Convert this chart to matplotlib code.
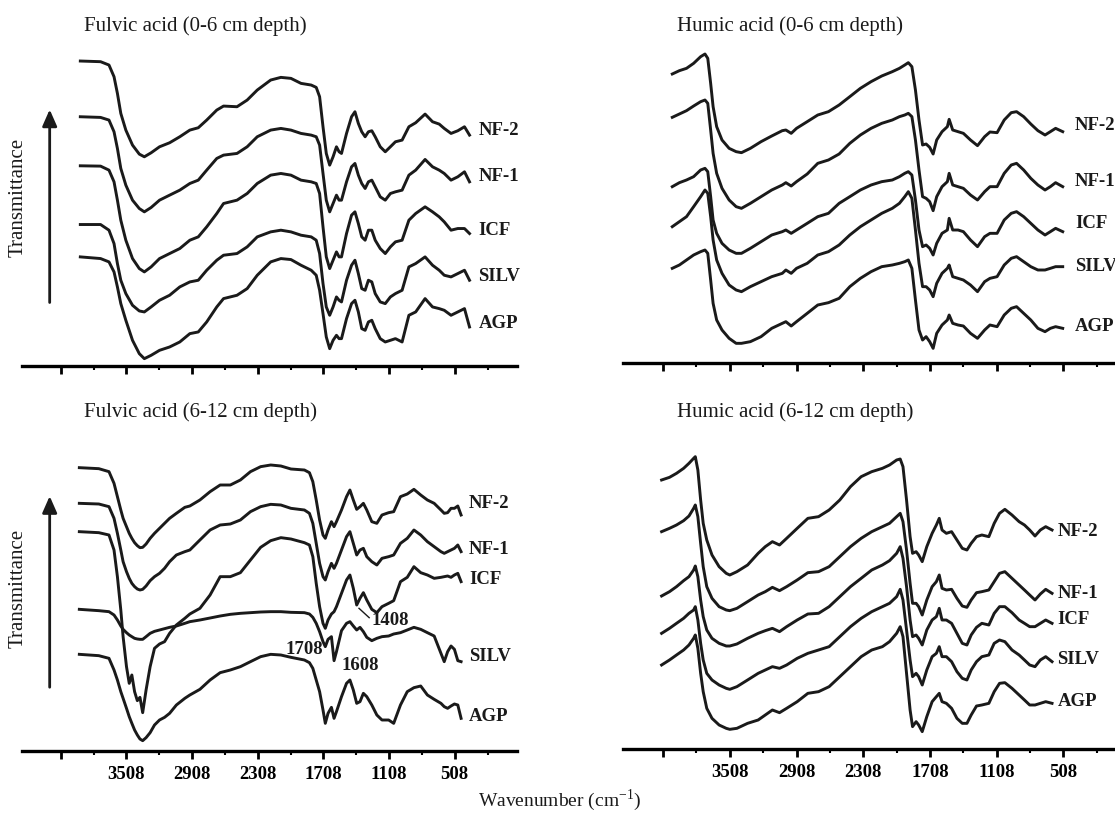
import matplotlib.pyplot as plt

plt.rcParams['font.family'] = ['Liberation Serif', 'DejaVu Serif']
plt.rcParams['mathtext.fontset'] = 'stix'

W, H = 1115, 814

samples = ['NF-2', 'NF-1', 'ICF', 'SILV', 'AGP']
major_ticks = [4108, 3508, 2908, 2308, 1708, 1108, 508]
minor_ticks = [3808, 3208, 2608, 2008, 1408, 808, 208]
tick_labels = ['', '3508', '2908', '2308', '1708', '1108', '508']

# spectra read off the figure as offset depth below the panel top (a.u.),
# so the y axis is drawn inverted

# fulvic acid, 0-6 cm
fa1_wn = [3930, 3745, 3668, 3622, 3591, 3560, 3514, 3453, 3391, 3345,
          3283, 3206, 3114, 3021, 2929, 2852, 2775, 2683, 2621, 2498,
          2405, 2313, 2190, 2097, 2005, 1913, 1820, 1774, 1743, 1712,
          1682, 1651, 1620, 1589, 1565, 1543, 1497, 1451, 1420, 1389,
          1358, 1327, 1297, 1266, 1235, 1189, 1143, 1096, 1050, 989,
          927, 865, 779, 711, 650, 604, 542, 480, 419, 373]
fa1_nf2 = [183, 185, 195, 230, 280, 340, 390, 435, 462, 470,
           458, 440, 428, 410, 390, 383, 360, 330, 318, 320,
           300, 270, 240, 232, 235, 250, 255, 262, 290, 380,
           460, 495, 470, 440, 455, 460, 400, 350, 335, 370,
           395, 410, 395, 392, 410, 440, 455, 440, 425, 420,
           380, 368, 342, 365, 372, 385, 400, 392, 380, 405]
fa1_nf1 = [350, 352, 360, 395, 445, 505, 555, 600, 625, 635,
           622, 600, 585, 570, 550, 540, 510, 475, 465, 460,
           440, 410, 390, 385, 390, 400, 405, 410, 435, 520,
           600, 635, 610, 585, 600, 600, 545, 500, 490, 525,
           550, 565, 545, 540, 560, 590, 600, 580, 575, 570,
           525, 510, 478, 500, 510, 520, 540, 530, 515, 545]
fa1_icf = [497, 498, 510, 545, 600, 660, 720, 775, 805, 815,
           800, 775, 760, 745, 720, 710, 680, 640, 610, 600,
           580, 550, 525, 520, 525, 540, 545, 550, 580, 680,
           770, 805, 780, 755, 770, 770, 700, 645, 635, 670,
           710, 720, 690, 690, 720, 745, 760, 740, 725, 720,
           660, 640, 620, 635, 650, 665, 690, 685, 685, 700]
fa1_silv = [673, 673, 690, 730, 790, 840, 880, 915, 932, 935,
            920, 900, 885, 860, 845, 840, 810, 780, 765, 760,
            740, 710, 695, 690, 695, 705, 710, 720, 760, 850,
            920, 945, 920, 890, 900, 905, 840, 795, 780, 820,
            865, 870, 840, 845, 880, 905, 910, 890, 880, 870,
            800, 790, 770, 795, 810, 825, 830, 820, 810, 840]
fa1_agp = [770, 775, 785, 815, 860, 910, 960, 1020, 1060, 1075,
           1065, 1050, 1040, 1025, 1000, 995, 965, 920, 895, 885,
           865, 825, 785, 775, 778, 795, 810, 825, 870, 940,
           1010, 1045, 1020, 1005, 1015, 1015, 955, 910, 900, 935,
           985, 990, 965, 960, 985, 1015, 1025, 1020, 1015, 1025,
           945, 935, 895, 920, 925, 930, 945, 935, 925, 980]

# humic acid, 0-6 cm
ha1_wn = [4025, 3961, 3897, 3833, 3770, 3731, 3706, 3680, 3658, 3626,
          3578, 3514, 3451, 3403, 3323, 3227, 3131, 3036, 3004, 2956,
          2908, 2812, 2717, 2621, 2525, 2429, 2334, 2238, 2142, 2047,
          1983, 1935, 1903, 1871, 1839, 1807, 1775, 1743, 1711, 1680,
          1648, 1600, 1552, 1536, 1504, 1456, 1408, 1344, 1281, 1217,
          1169, 1105, 1041, 978, 930, 866, 802, 738, 674, 626,
          579, 515]
ha1_nf2 = [222, 212, 205, 190, 170, 162, 175, 250, 320, 380,
           420, 445, 455, 458, 445, 425, 408, 392, 390, 400,
           385, 365, 345, 335, 315, 290, 265, 245, 228, 215,
           205, 195, 188, 200, 270, 360, 435, 432, 442, 462,
           420, 395, 380, 358, 390, 395, 400, 420, 437, 410,
           396, 398, 360, 338, 335, 350, 372, 392, 405, 395,
           385, 395]
ha1_nf1 = [352, 342, 332, 318, 305, 300, 310, 390, 460, 520,
           565, 600, 620, 625, 610, 590, 570, 555, 548, 558,
           545, 522, 490, 480, 462, 430, 405, 385, 370, 360,
           350, 345, 340, 350, 420, 510, 590, 595, 605, 632,
           590, 560, 545, 520, 555, 560, 565, 585, 600, 575,
           560, 560, 520, 495, 490, 510, 535, 555, 570, 560,
           548, 560]
ha1_icf = [560, 548, 540, 530, 510, 505, 515, 590, 660, 700,
           730, 750, 760, 760, 745, 725, 705, 695, 690, 700,
           690, 670, 650, 640, 610, 590, 570, 555, 545, 540,
           530, 520, 515, 525, 600, 690, 740, 735, 745, 765,
           730, 700, 690, 655, 690, 690, 695, 720, 740, 710,
           700, 700, 660, 640, 635, 650, 670, 690, 705, 695,
           685, 695]
ha1_silv = [680, 665, 650, 620, 590, 570, 580, 650, 720, 780,
            820, 855, 870, 875, 860, 845, 830, 820, 810, 820,
            805, 790, 765, 755, 735, 705, 680, 660, 640, 625,
            610, 590, 575, 595, 690, 790, 860, 860, 870, 890,
            850, 820, 805, 795, 830, 835, 840, 855, 875, 845,
            835, 830, 795, 775, 770, 785, 800, 810, 810, 805,
            800, 800]
ha1_agp = [805, 795, 780, 765, 755, 750, 760, 840, 910, 960,
           990, 1015, 1030, 1030, 1025, 1010, 985, 970, 965, 978,
           965, 940, 915, 908, 895, 860, 835, 815, 800, 795,
           790, 785, 780, 805, 900, 990, 1020, 1010, 1025, 1045,
           1000, 975, 960, 945, 970, 975, 978, 1000, 1015, 990,
           975, 980, 945, 925, 920, 940, 960, 985, 995, 985,
           980, 985]

# fulvic acid, 6-12 cm
fa2_wn = [3939, 3761, 3668, 3622, 3591, 3560, 3539, 3508, 3483, 3459,
          3434, 3409, 3385, 3360, 3329, 3292, 3252, 3206, 3160, 3114,
          3052, 2975, 2929, 2837, 2744, 2652, 2559, 2467, 2375, 2282,
          2190, 2097, 2005, 1882, 1836, 1805, 1774, 1743, 1712, 1691,
          1666, 1635, 1611, 1589, 1543, 1497, 1466, 1435, 1404, 1374,
          1343, 1312, 1266, 1220, 1173, 1112, 1066, 1004, 942, 881,
          819, 758, 696, 634, 604, 573, 542, 511, 480, 450]
fa2_nf2 = [233, 236, 245, 280, 320, 360, 385, 410, 430, 445,
           458, 467, 473, 472, 462, 445, 430, 415, 400, 385,
           370, 352, 348, 330, 305, 285, 285, 270, 245, 230,
           225, 228, 237, 240, 248, 275, 330, 390, 435, 445,
           420, 395, 410, 395, 360, 320, 300, 330, 358, 350,
           340, 360, 395, 400, 375, 368, 365, 320, 312, 298,
           315, 330, 340, 360, 370, 368, 355, 355, 348, 375]
fa2_nf1 = [340, 342, 350, 385, 430, 480, 515, 545, 565, 580,
           590, 597, 600, 598, 588, 572, 560, 550, 535, 515,
           495, 485, 480, 450, 420, 405, 402, 390, 365, 350,
           343, 345, 355, 360, 370, 400, 460, 520, 560, 570,
           545, 520, 535, 520, 480, 440, 425, 460, 495, 480,
           475, 500, 515, 525, 505, 500, 495, 460, 445, 420,
           435, 455, 470, 485, 490, 485, 480, 475, 465, 485]
fa2_icf = [425, 428, 435, 480, 560, 660, 740, 830, 880, 855,
           905, 932, 922, 968, 900, 830, 775, 762, 755, 730,
           705, 685, 672, 655, 615, 560, 560, 548, 510, 472,
           452, 443, 447, 458, 465, 500, 580, 650, 700, 715,
           690, 672, 665, 650, 610, 570, 555, 595, 645, 625,
           608, 630, 658, 668, 650, 640, 632, 575, 562, 530,
           548, 555, 565, 562, 560, 558, 562, 555, 550, 575]
fa2_silv = [658, 662, 665, 675, 690, 708, 718, 728, 735, 740,
            745, 747, 748, 748, 740, 730, 724, 720, 716, 712,
            708, 700, 695, 690, 684, 678, 673, 670, 668, 666,
            665, 665, 667, 668, 672, 682, 700, 725, 755, 770,
            748, 740, 812, 785, 722, 700, 695, 708, 720, 712,
            725, 742, 752, 745, 740, 738, 732, 728, 720, 712,
            718, 728, 738, 790, 815, 785, 768, 778, 812, 815]
fa2_agp = [793, 797, 805, 840, 870, 905, 925, 955, 980, 1000,
           1020, 1035, 1047, 1052, 1043, 1028, 1005, 990, 982, 970,
           945, 925, 915, 898, 870, 848, 840, 830, 815, 800,
           793, 795, 802, 810, 818, 835, 870, 905, 960, 1000,
           970, 952, 985, 965, 920, 880, 870, 900, 940, 935,
           910, 920, 945, 975, 990, 990, 1000, 945, 905, 893,
           888, 915, 928, 940, 950, 955, 948, 942, 945, 985]

# humic acid, 6-12 cm
ha2_wn = [4121, 4050, 3987, 3923, 3875, 3833, 3818, 3795, 3770, 3747,
          3715, 3668, 3604, 3540, 3508, 3444, 3348, 3253, 3189, 3125,
          3061, 2997, 2902, 2806, 2710, 2615, 2519, 2423, 2327, 2232,
          2136, 2072, 2008, 1976, 1951, 1919, 1887, 1865, 1833, 1810,
          1778, 1737, 1689, 1651, 1625, 1600, 1561, 1514, 1466, 1418,
          1376, 1338, 1290, 1242, 1179, 1131, 1083, 1035, 971, 907,
          859, 812, 764, 716, 668, 611]
ha2_nf2 = [270, 262, 250, 235, 220, 205, 200, 240, 330, 400,
           450, 495, 530, 550, 555, 545, 525, 490, 470, 455,
           465, 445, 415, 385, 380, 360, 330, 290, 260, 245,
           235, 225, 210, 207, 230, 330, 440, 490, 485, 495,
           515, 470, 430, 405, 385, 420, 430, 425, 450, 475,
           480, 460, 440, 435, 440, 400, 370, 358, 375, 395,
           405, 420, 438, 420, 410, 420]
ha2_nf1 = [425, 415, 405, 392, 378, 355, 345, 380, 460, 530,
           590, 625, 650, 660, 662, 655, 635, 615, 605, 592,
           602, 590, 570, 548, 545, 530, 500, 470, 445, 425,
           410, 400, 380, 370, 395, 480, 580, 640, 640, 650,
           675, 630, 590, 575, 555, 595, 600, 598, 625, 648,
           652, 630, 608, 605, 600, 575, 550, 545, 565, 585,
           600, 615, 630, 612, 598, 610]
ha2_icf = [618, 605, 590, 572, 560, 540, 528, 560, 630, 680,
           720, 745, 760, 768, 768, 762, 745, 730, 722, 715,
           725, 710, 690, 672, 670, 650, 620, 590, 565, 540,
           525, 512, 490, 470, 505, 590, 690, 740, 735, 745,
           765, 720, 690, 680, 655, 690, 690, 700, 730, 760,
           765, 735, 712, 700, 705, 670, 650, 650, 668, 690,
           700, 710, 710, 700, 690, 700]
ha2_silv = [730, 715, 700, 685, 670, 660, 650, 690, 760, 810,
            850, 870, 885, 895, 898, 890, 870, 850, 840, 830,
            835, 825, 805, 790, 780, 770, 740, 710, 685, 665,
            650, 640, 620, 598, 630, 720, 810, 860, 850, 860,
            885, 840, 800, 790, 770, 800, 800, 815, 845, 865,
            870, 840, 815, 800, 795, 760, 750, 755, 780, 795,
            810, 825, 830, 810, 800, 815]
ha2_agp = [825, 810, 795, 780, 765, 745, 735, 775, 850, 905,
           955, 985, 1005, 1015, 1018, 1015, 1000, 990, 975, 960,
           968, 955, 935, 910, 905, 890, 860, 830, 800, 780,
           770, 755, 730, 710, 740, 850, 960, 1010, 995, 1005,
           1025, 980, 935, 920, 910, 935, 940, 955, 985, 1000,
           1000, 975, 948, 945, 940, 905, 880, 878, 895, 915,
           930, 945, 945, 940, 935, 940]

panels = [
    dict(title='Fulvic acid (0-6 cm depth)', box=(22, 40, 517, 366),
         xlim=(4463, -61), ylim=(1097, 120), wn=fa1_wn,
         curves=[fa1_nf2, fa1_nf1, fa1_icf, fa1_silv, fa1_agp],
         lab_x=292, lab_y=[390, 530, 690, 830, 970], title_px=(84, 26),
         arrow=(4210, 915, 320), ylab_py=197, ticklabels=False),
    dict(title='Humic acid (0-6 cm depth)', box=(623, 40, 1115, 363),
         xlim=(4468, 45), ylim=(1089, 120), wn=ha1_wn,
         curves=[ha1_nf2, ha1_nf1, ha1_icf, ha1_silv, ha1_agp],
         lab_x=405, lab_y=[375, 545, 670, 800, 980], title_px=(677, 26),
         arrow=None, ylab_py=None, ticklabels=False),
    dict(title='Fulvic acid (6-12 cm depth)', box=(22, 430, 517, 751),
         xlim=(4463, -61), ylim=(1083, 120), wn=fa2_wn,
         curves=[fa2_nf2, fa2_nf1, fa2_icf, fa2_silv, fa2_agp],
         lab_x=376, lab_y=[340, 478, 570, 800, 980], title_px=(84, 412),
         arrow=(4210, 900, 310), ylab_py=588, ticklabels=True),
    dict(title='Humic acid (6-12 cm depth)', box=(623, 430, 1115, 749),
         xlim=(4468, 45), ylim=(1077, 120), wn=ha2_wn,
         curves=[ha2_nf2, ha2_nf1, ha2_icf, ha2_silv, ha2_agp],
         lab_x=563, lab_y=[425, 610, 690, 810, 935], title_px=(677, 412),
         arrow=None, ylab_py=None, ticklabels=True),
]

ink = '#1a1a1a'
fig = plt.figure(figsize=(W / 100, H / 100), dpi=100)
axes = []

for p in panels:
    l, t, r, b = p['box']
    ax = fig.add_axes([l / W, 1 - b / H, (r - l) / W, (b - t) / H])
    axes.append(ax)
    for name, vals, ly in zip(samples, p['curves'], p['lab_y']):
        ax.plot(p['wn'], vals, color=ink, lw=2.1, solid_joinstyle='round')
        ax.text(p['lab_x'], ly, name, fontsize=13.5, fontweight='bold',
                ha='left', va='center', color=ink)
    ax.set_xlim(*p['xlim'])
    ax.set_ylim(*p['ylim'])
    for side in ['left', 'right', 'top']:
        ax.spines[side].set_visible(False)
    ax.spines['bottom'].set_linewidth(2.4)
    ax.set_yticks([])
    ax.set_xticks(major_ticks)
    ax.set_xticks(minor_ticks, minor=True)
    ax.tick_params(axis='x', which='major', length=6, width=2, direction='out', pad=5)
    ax.tick_params(axis='x', which='minor', length=3, width=1.5, direction='out')
    if p['ticklabels']:
        ax.set_xticklabels(tick_labels, fontsize=13.5, fontweight='bold')
    else:
        ax.set_xticklabels([])
    fig.text(p['title_px'][0] / W, 1 - p['title_px'][1] / H, p['title'],
             fontsize=15, ha='left', va='center', color=ink)
    if p['arrow']:
        x, y0, y1 = p['arrow']
        ax.annotate('', xy=(x, y1), xytext=(x, y0),
                    arrowprops=dict(arrowstyle='-|>,head_length=0.5,head_width=0.22',
                                    mutation_scale=20, lw=2, color=ink))
    if p['ylab_py']:
        fig.text(18 / W, 1 - p['ylab_py'] / H, 'Transmittance', rotation=90,
                 fontsize=15, ha='center', va='center', color=ink)

# peak annotations on the 6-12 cm fulvic acid panel
ax = axes[2]
ax.text(1713, 780, '1708', fontsize=13.5, fontweight='bold', ha='right', va='center', color=ink)
ax.text(1543, 828, '1608', fontsize=13.5, fontweight='bold', ha='left', va='center', color=ink)
ax.text(1272, 692, '1408', fontsize=13.5, fontweight='bold', ha='left', va='center', color=ink)
ax.plot([1383, 1290], [655, 683], color=ink, lw=1)

fig.text(560 / W, 1 - 800 / H, r'Wavenumber (cm$^{\mathregular{-1}}$)', fontsize=14,
         ha='center', va='center', color=ink)

fig.savefig('out.png', dpi=100)
